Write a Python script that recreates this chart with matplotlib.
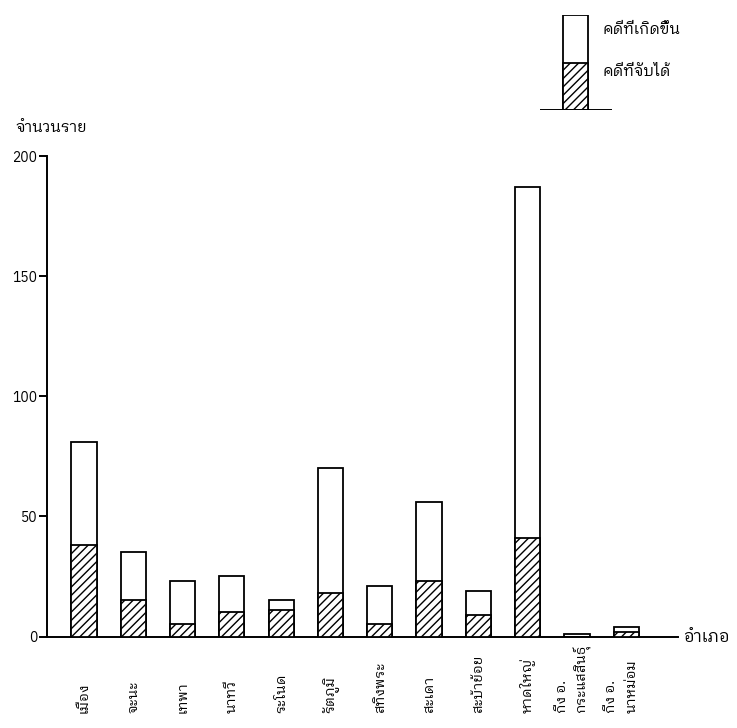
import matplotlib
matplotlib.use("Agg")
import matplotlib.pyplot as plt
import matplotlib.transforms as mtransforms
import numpy as np

plt.rcParams['font.family'] = ['IBM Plex Sans Thai Looped', 'DejaVu Sans']
plt.rcParams['hatch.linewidth'] = 1.0

# data
districts = ['เมือง', 'จะนะ', 'เทพา', 'นาทวี', 'ระโนด', 'รัตภูมิ', 'สทิงพระ',
             'สะเดา', 'สะบ้าย้อย', 'หาดใหญ่', 'กิ่ง อ.\nกระแสสินธุ์', 'กิ่ง อ.\nนาหม่อม']
occurred = [81, 35, 23, 25, 15, 70, 21, 56, 19, 187, 1, 4]
caught = [38, 15, 5, 10, 11, 18, 5, 23, 9, 41, 0, 2]
yticks = [0, 50, 100, 150, 200]

W, H = 737, 728
fig = plt.figure(figsize=(W / 100, H / 100), dpi=100)
ax = fig.add_axes([47 / W, (H - 636.5) / H, (678 - 47) / W, (636.5 - 156) / H])

x = np.arange(len(districts))
ax.bar(x, occurred, width=0.51, color='white', edgecolor='black', linewidth=1.3, zorder=2)
ax.bar(x, caught, width=0.51, color='white', edgecolor='black', linewidth=1.3,
       hatch='////', zorder=3)

ax.set_xlim(-0.75, 12.05)
ax.set_ylim(0, 200)
ax.spines['top'].set_visible(False)
ax.spines['right'].set_visible(False)
ax.spines['left'].set_bounds(0, 200)
ax.spines['left'].set_linewidth(1.4)
ax.spines['bottom'].set_linewidth(1.4)
ax.set_yticks(yticks)
ax.tick_params(axis='y', direction='out', length=6, width=1.4, labelsize=10, pad=1)
ax.set_xticks([])

# rotated district names under the bars, one text per line
trans = mtransforms.blended_transform_factory(ax.transData, fig.transFigure)
for xi, name in zip(x, districts):
    lines = name.split('\n')
    if len(lines) == 1:
        offsets = [0]
    else:
        offsets = [-0.3, 0.1]
    for line, off in zip(lines, offsets):
        ax.text(xi + off, (H - 713) / H, line, rotation=90, ha='center', va='bottom',
                fontsize=10, transform=trans, clip_on=False)

fig.text(15 / W, (H - 128) / H, 'จำนวนราย', fontsize=11, ha='left', va='center')
fig.text(683 / W, (H - 637) / H, 'อำเภอ', fontsize=12, ha='left', va='center')

# legend key
lax = fig.add_axes([540 / W, (H - 110) / H, (612 - 540) / W, (110 - 15) / H])
lax.bar([35.5], [1], width=25, color='white', edgecolor='black', linewidth=1.3)
lax.bar([35.5], [0.5], width=25, color='white', edgecolor='black', linewidth=1.3, hatch='////')
lax.axhline(0, color='black', linewidth=1.4)
lax.set_xlim(0, 72)
lax.set_ylim(0, 1)
lax.axis('off')
fig.text(602 / W, (H - 30) / H, 'คดีที่เกิดขึ้น', fontsize=11, ha='left', va='center')
fig.text(602 / W, (H - 72) / H, 'คดีที่จับได้', fontsize=11, ha='left', va='center')

fig.savefig('out.png', dpi=100)
